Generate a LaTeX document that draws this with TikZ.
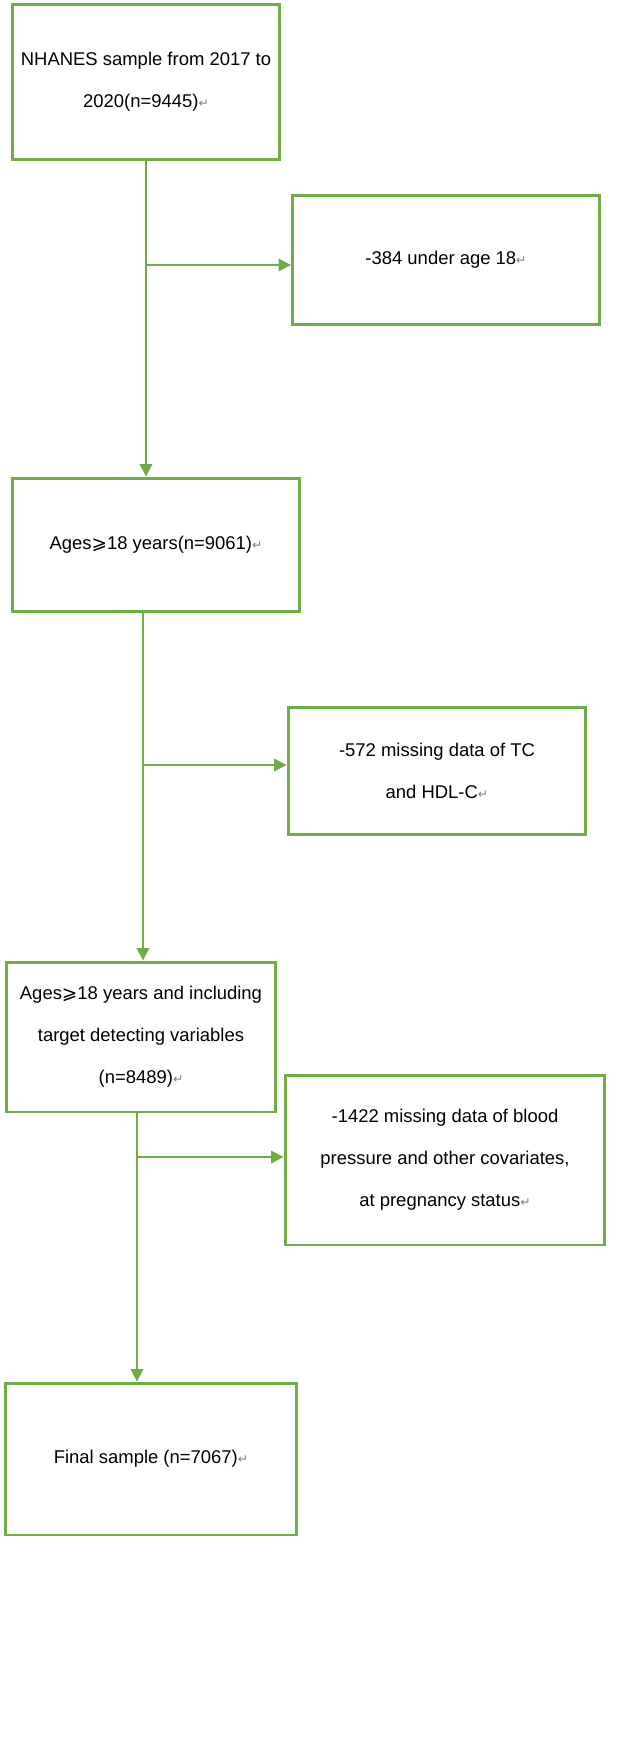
\documentclass[tikz,border=0pt]{standalone}
\usepackage{fontspec}
\setmainfont{Liberation Sans}
\newfontfamily\symfont{DejaVu Sans}
\usetikzlibrary{arrows.meta}
\definecolor{boxgreen}{RGB}{112,173,71}
\newcommand{\ret}{{\symfont\color{gray}\scriptsize ↵}}
\newcommand{\ageq}{{\symfont ⩾}}
\tikzset{
  stepbox/.style={draw=boxgreen, line width=1.7pt, fill=white, align=center,
                  font=\fontsize{10.5}{24}\selectfont, inner sep=2pt},
  arr/.style={draw=boxgreen, line width=1.1pt, -{Triangle[length=7pt,width=7pt]}},
  ln/.style={draw=boxgreen, line width=1.1pt}
}
\begin{document}
\begin{tikzpicture}[x=0.02cm, y=-0.02cm]
\useasboundingbox (0,0) rectangle (638,1740);
\node[stepbox, minimum width=5.36cm, minimum height=3.1cm] (b1) at (146,82)
  {NHANES sample from 2017 to\\2020(n=9445)\ret};
\node[stepbox, minimum width=6.14cm, minimum height=2.6cm] (b2) at (446,260)
  {-384 under age 18\ret};
\node[stepbox, minimum width=5.76cm, minimum height=2.68cm] (b3) at (156,545)
  {Ages\ageq18 years(n=9061)\ret};
\node[stepbox, minimum width=5.96cm, minimum height=2.54cm] (b4) at (437,771)
  {-572 missing data of TC\\and HDL-C\ret};
\node[stepbox, minimum width=5.4cm, minimum height=3.0cm] (b5) at (141,1037)
  {Ages\ageq18 years and including\\target detecting variables\\(n=8489)\ret};
\node[stepbox, minimum width=6.4cm, minimum height=3.4cm] (b6) at (445,1160)
  {-1422 missing data of blood\\pressure and other covariates,\\at pregnancy status\ret};
\node[stepbox, minimum width=5.84cm, minimum height=3.04cm] (b7) at (151,1459)
  {Final sample (n=7067)\ret};

\coordinate (j1) at (146,265);
\coordinate (j2) at (143,765);
\coordinate (j3) at (137,1157);
\draw[arr] (b1.south) -- (b1.south |- b3.north);
\draw[arr] (j1) -- (b2.west |- j1);
\draw[arr] (j2 |- b3.south) -- (j2 |- b5.north);
\draw[arr] (j2) -- (b4.west |- j2);
\draw[arr] (j3 |- b5.south) -- (j3 |- b7.north);
\draw[arr] (j3) -- (b6.west |- j3);
\end{tikzpicture}
\end{document}
